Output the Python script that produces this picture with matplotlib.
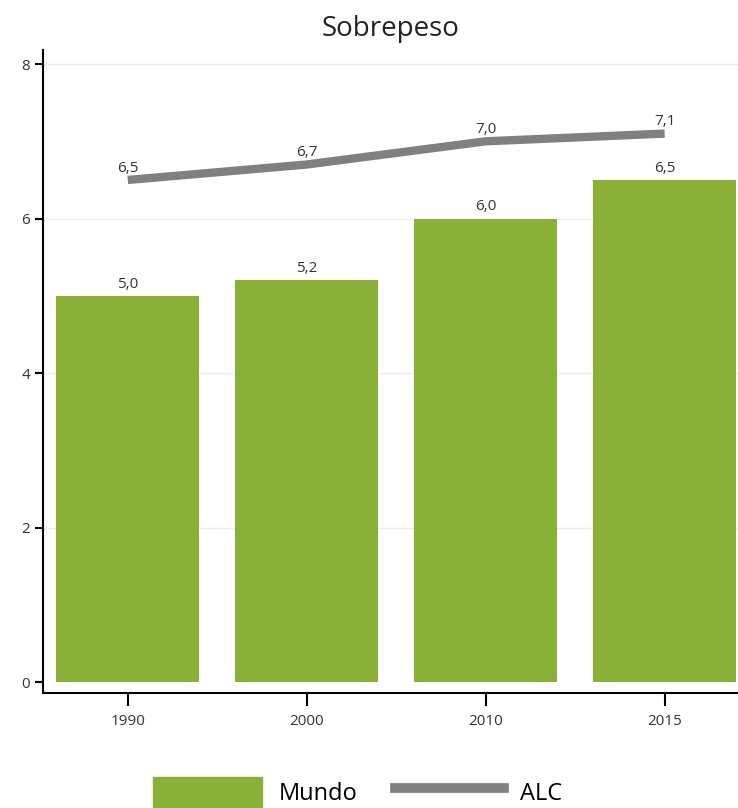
import numpy as np
import matplotlib.pyplot as plt
from matplotlib.patches import Patch
from matplotlib.lines import Line2D

plt.rcParams['font.family'] = ['Open Sans', 'DejaVu Sans']

years = ['1990', '2000', '2010', '2015']
mundo = [5.0, 5.2, 6.0, 6.5]
alc = [6.5, 6.7, 7.0, 7.1]

green = '#8bb03a'
gray = '#808080'
text_col = '#333333'

fig = plt.figure(figsize=(7.38, 8.08), dpi=100)
ax = fig.add_axes([0.058, 0.142, 0.942, 0.796])

x = np.arange(len(years))
ax.bar(x, mundo, width=0.8, color=green, zorder=2)
ax.plot(x, alc, color=gray, linewidth=6, solid_capstyle='butt', zorder=3)

for xi, v in zip(x, mundo):
    ax.annotate(f'{v:.1f}'.replace('.', ','), (xi, v), xytext=(0, 3),
                textcoords='offset points', ha='center', va='bottom',
                fontsize=11, color=text_col)
for xi, v in zip(x, alc):
    ax.annotate(f'{v:.1f}'.replace('.', ','), (xi, v), xytext=(0, 3),
                textcoords='offset points', ha='center', va='bottom',
                fontsize=11, color=text_col)

ax.set_xlim(-0.475, 3.41)
ax.set_ylim(-0.14, 8.18)
ax.set_yticks([0, 2, 4, 6, 8])
ax.set_xticks(x)
ax.set_xticklabels(years)
ax.tick_params(axis='both', labelsize=11, labelcolor=text_col, color='black',
               width=1.5)
ax.tick_params(axis='y', length=6, pad=3)
ax.tick_params(axis='x', length=9, pad=6)

for yv in [2, 4, 6, 8]:
    ax.axhline(yv, color='#e3f0f0', linewidth=1, zorder=0)

ax.spines['top'].set_visible(False)
ax.spines['right'].set_visible(False)
ax.spines['left'].set_linewidth(1.5)
ax.spines['bottom'].set_linewidth(1.5)

ax.set_title('Sobrepeso', fontsize=20, color='#222222', pad=10)

handles = [Patch(color=green, label='Mundo'),
           Line2D([0], [0], color=gray, linewidth=7, label='ALC')]
fig.legend(handles=handles, loc='lower center', bbox_to_anchor=(0.485, -0.025),
           ncol=2, frameon=False, fontsize=17, handlelength=4.6,
           handleheight=1.6, columnspacing=1.6, handletextpad=0.7)

fig.savefig('out.png', dpi=100)
